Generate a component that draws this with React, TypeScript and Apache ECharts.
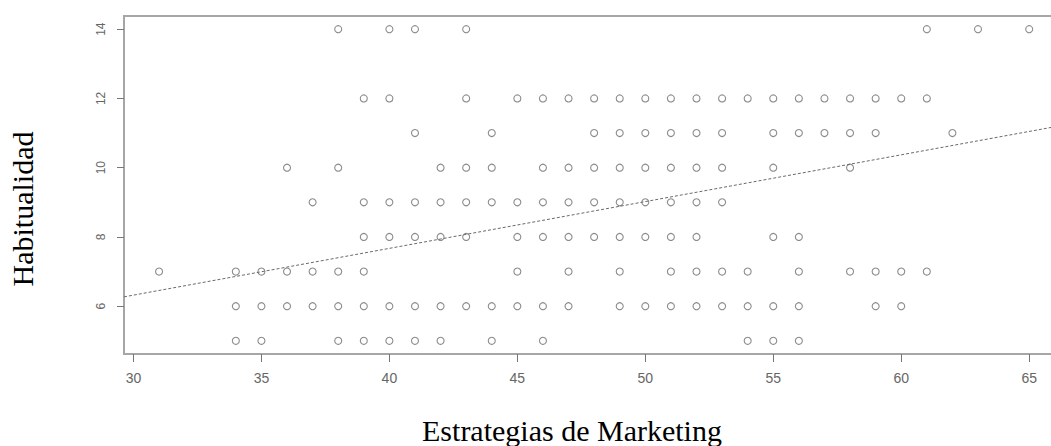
import React, { useEffect, useRef } from "react";
import * as echarts from "echarts";

// Estrategias de Marketing values observed at each Habitualidad level
const xAt14 = [38, 40, 41, 43, 61, 63, 65];
const xAt12 = [39, 40, 43, 45, 46, 47, 48, 49, 50, 51, 52, 53, 54, 55, 56, 57, 58, 59, 60, 61];
const xAt11 = [41, 44, 48, 49, 50, 51, 52, 53, 55, 56, 57, 58, 59, 62];
const xAt10 = [36, 38, 42, 43, 44, 46, 47, 48, 49, 50, 51, 52, 53, 55, 58];
const xAt9 = [37, 39, 40, 41, 42, 43, 44, 45, 46, 47, 48, 49, 50, 51, 52, 53];
const xAt8 = [39, 40, 41, 42, 43, 45, 46, 47, 48, 49, 50, 51, 52, 55, 56];
const xAt7 = [31, 34, 35, 36, 37, 38, 39, 45, 47, 49, 51, 52, 53, 54, 56, 58, 59, 60, 61];
const xAt6 = [34, 35, 36, 37, 38, 39, 40, 41, 42, 43, 44, 45, 46, 47, 49, 50, 51, 52, 53, 54, 55, 56, 59, 60];
const xAt5 = [34, 35, 38, 39, 40, 41, 42, 44, 46, 54, 55, 56];

const levels: [number, number[]][] = [
  [14, xAt14],
  [12, xAt12],
  [11, xAt11],
  [10, xAt10],
  [9, xAt9],
  [8, xAt8],
  [7, xAt7],
  [6, xAt6],
  [5, xAt5],
];

// fitted regression line (endpoints at the plot edges)
const fitLine = [
  [29.63, 6.27],
  [66.36, 11.23],
];

const xTicks = [30, 35, 40, 45, 50, 55, 60, 65];
const yTicks = [6, 8, 10, 12, 14];

const xTitle = "Estrategias de Marketing";
const yTitle = "Habitualidad";

export default function App() {
  const ref = useRef<HTMLDivElement>(null);
  useEffect(() => {
    if (!ref.current) return;
    const chart = echarts.init(ref.current, null, { renderer: "svg" });
    const points: number[][] = [];
    levels.forEach(([y, xs]) => xs.forEach((x) => points.push([x, y])));
    const tickFont = "'Liberation Sans', Arial, sans-serif";
    chart.setOption({
      animation: false,
      backgroundColor: "#ffffff",
      grid: {
        left: 124,
        top: 16,
        bottom: 92,
        right: 2,
        show: true,
        borderColor: "#a6a6a6",
        borderWidth: 2,
        backgroundColor: "transparent",
      },
      xAxis: {
        type: "value",
        min: 29.63,
        max: 66.36,
        splitLine: { show: false },
        axisLine: { show: false },
        axisTick: {
          show: true,
          customValues: xTicks,
          length: 8,
          lineStyle: { color: "#777", width: 1 },
        },
        axisLabel: {
          customValues: xTicks,
          margin: 17,
          fontSize: 14,
          color: "#666",
          fontFamily: tickFont,
        },
      },
      yAxis: {
        type: "value",
        min: 4.62,
        max: 14.38,
        splitLine: { show: false },
        axisLine: { show: false },
        axisTick: {
          show: true,
          customValues: yTicks,
          length: 7,
          lineStyle: { color: "#777", width: 1 },
        },
        axisLabel: {
          customValues: yTicks,
          rotate: 90,
          margin: 17,
          fontSize: 12,
          color: "#666",
          fontFamily: tickFont,
        },
      },
      series: [
        {
          type: "scatter",
          data: points,
          symbol: "circle",
          symbolSize: 7,
          itemStyle: {
            color: "rgba(255,255,255,0)",
            borderColor: "#6e6e6e",
            borderWidth: 1.1,
          },
        },
        {
          type: "line",
          data: fitLine,
          showSymbol: false,
          symbol: "none",
          lineStyle: { color: "#6a6a6a", width: 1, type: [3, 2] },
          clip: true,
        },
      ],
      graphic: [
        {
          type: "text",
          x: 572,
          y: 430,
          style: {
            text: xTitle,
            font: "30px 'Liberation Serif', 'Times New Roman', serif",
            fill: "#000",
            textAlign: "center",
            textVerticalAlign: "middle",
          },
        },
        {
          type: "text",
          x: 22,
          y: 209,
          rotation: Math.PI / 2,
          style: {
            text: yTitle,
            font: "30px 'Liberation Serif', 'Times New Roman', serif",
            fill: "#000",
            textAlign: "center",
            textVerticalAlign: "middle",
          },
        },
      ],
    });
    return () => chart.dispose();
  }, []);
  return (
    <div
      style={{
        position: "absolute",
        left: 0,
        top: 0,
        width: 1051,
        height: 446,
        overflow: "hidden",
      }}
    >
      <div ref={ref} style={{ width: 1066, height: 446 }} />
    </div>
  );
}
